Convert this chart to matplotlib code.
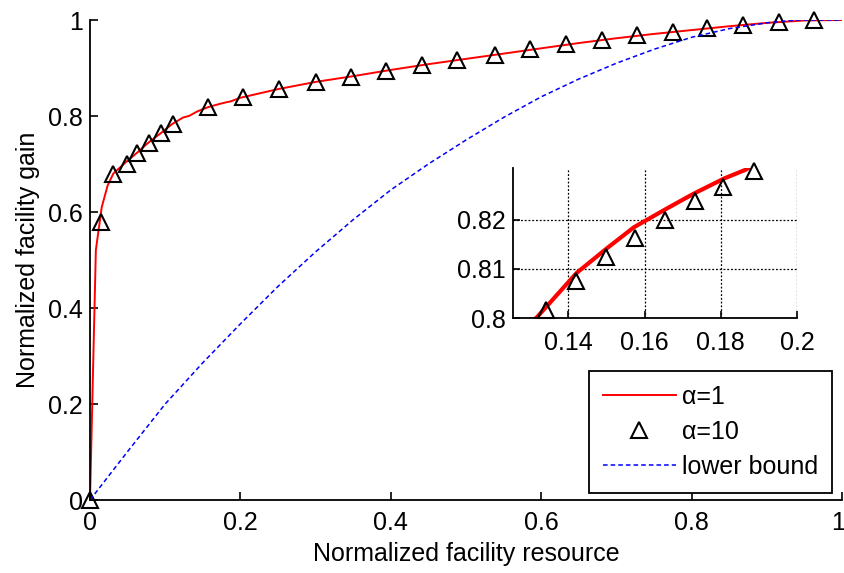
import matplotlib
matplotlib.use("Agg")
import matplotlib.pyplot as plt
from matplotlib.ticker import FixedLocator, FuncFormatter
from matplotlib.transforms import ScaledTranslation

plt.rcParams['font.family'] = ['Liberation Sans', 'DejaVu Sans']
FS = 18

# alpha = 1 (solid red curve)
red_x = [0, 0.0078, 0.0156, 0.0234, 0.031, 0.047, 0.063, 0.078, 0.094, 0.109, 0.124,
         0.1316, 0.1422, 0.1501, 0.1572, 0.166, 0.173, 0.181, 0.1867, 0.2, 0.25, 0.3,
         0.35, 0.4, 0.45, 0.5, 0.55, 0.6, 0.65, 0.7, 0.75, 0.8, 0.85, 0.9, 0.95, 1.0]
red_y = [0, 0.521, 0.61, 0.655, 0.68, 0.703, 0.724, 0.745, 0.764, 0.783, 0.797,
         0.800, 0.8092, 0.8142, 0.8185, 0.8224, 0.8254, 0.8285, 0.8303, 0.838, 0.856, 0.871,
         0.883, 0.896, 0.908, 0.919, 0.930, 0.941, 0.952, 0.962, 0.971, 0.979, 0.987, 0.994, 0.999, 1.0]

# alpha = 10 (triangles, main plot)
tri_x = [0, 0.0146, 0.031, 0.0488, 0.063, 0.0786, 0.0945, 0.110, 0.157, 0.203, 0.251,
         0.300, 0.3467, 0.394, 0.441, 0.488, 0.538, 0.5857, 0.633, 0.681, 0.728, 0.7756,
         0.821, 0.869, 0.916, 0.963]
tri_y = [0, 0.5785, 0.6785, 0.699, 0.722, 0.744, 0.764, 0.783, 0.818, 0.840, 0.8556,
         0.870, 0.8806, 0.894, 0.906, 0.9167, 0.928, 0.939, 0.950, 0.958, 0.969, 0.976,
         0.983, 0.990, 0.9965, 1.0]

# lower bound (dashed blue)
low_x = [0, 0.05, 0.1, 0.15, 0.2, 0.25, 0.3, 0.35, 0.4, 0.45, 0.5, 0.55, 0.6, 0.65,
         0.7, 0.75, 0.8, 0.85, 0.9, 0.94, 1.0]
low_y = [0, 0.101, 0.200, 0.286, 0.367, 0.445, 0.517, 0.584, 0.646, 0.700, 0.750, 0.797,
         0.840, 0.877, 0.910, 0.939, 0.964, 0.982, 0.994, 1.0, 1.0]

# inset triangles (alpha = 10, zoomed)
ins_tri_x = [0.1341, 0.1420, 0.1498, 0.1574, 0.1653, 0.1732, 0.1807, 0.1886]
ins_tri_y = [0.8016, 0.8075, 0.8125, 0.8164, 0.8200, 0.8239, 0.8268, 0.8300]

main_ticks = [0, 0.2, 0.4, 0.6, 0.8, 1]
ins_xticks = [0.14, 0.16, 0.18, 0.2]
ins_yticks = [0.8, 0.81, 0.82]

W, H = 845, 573
fig = plt.figure(figsize=(W / 100, H / 100), dpi=100)
ax = fig.add_axes([90 / W, 1 - 500 / H, 752 / W, 480 / H])

fmt = FuncFormatter(lambda v, p: ('%g' % round(v, 4)))

ax.plot(red_x, red_y, color='#ff0000', lw=1.4, label='α=1')
ax.plot(tri_x, tri_y, linestyle='none', marker='^', ms=12, mfc='none', mec='black',
        mew=1.5, label='α=10', clip_on=False)
ax.plot(low_x, low_y, color='#0000ff', lw=1.1, linestyle=(0, (3, 2)), label='lower bound')

ax.set_xlim(0, 1)
ax.set_ylim(0, 1)
ax.xaxis.set_major_locator(FixedLocator(main_ticks))
ax.yaxis.set_major_locator(FixedLocator(main_ticks))
ax.xaxis.set_major_formatter(fmt)
ax.yaxis.set_major_formatter(fmt)
for s in ['top', 'right']:
    ax.spines[s].set_visible(False)
for s in ['left', 'bottom']:
    ax.spines[s].set_linewidth(1.3)
ax.tick_params(direction='in', length=6, width=1.2, labelsize=FS)
ax.tick_params(axis='y', pad=5)
ax.tick_params(axis='x', pad=8)
ax.set_xlabel('Normalized facility resource', fontsize=FS, labelpad=5)
ax.set_ylabel('Normalized facility gain', fontsize=FS, labelpad=6)

# keep the right-most tick label inside the figure
last_tick = ax.xaxis.get_major_ticks()[-1]
last_tick.label1.set_transform(last_tick.label1.get_transform()
                               + ScaledTranslation(-4 / 100, 0, fig.dpi_scale_trans))

leg = ax.legend(loc='lower right', bbox_to_anchor=(0.987, 0.0146), borderaxespad=0,
                fontsize=FS, fancybox=False, edgecolor='black', framealpha=1,
                handlelength=2.9, handletextpad=0.27, numpoints=1, labelspacing=0.45,
                borderpad=0.55)
leg.get_frame().set_linewidth(1.3)

# inset
ins = fig.add_axes([513 / W, 1 - 318 / H, 284 / W, 150 / H])
ins.plot(red_x, red_y, color='#ff0000', lw=3)
ins.plot(ins_tri_x, ins_tri_y, linestyle='none', marker='^', ms=12, mfc='none',
         mec='black', mew=1.5, clip_on=False)
ins.set_xlim(0.1255, 0.2)
ins.set_ylim(0.8, 0.8306)
ins.xaxis.set_major_locator(FixedLocator(ins_xticks))
ins.yaxis.set_major_locator(FixedLocator(ins_yticks))
ins.xaxis.set_major_formatter(fmt)
ins.yaxis.set_major_formatter(fmt)
ins.grid(True, color='black', linestyle=(0, (1.5, 1.5)), lw=0.9)
for s in ['top', 'right']:
    ins.spines[s].set_visible(False)
for s in ['left', 'bottom']:
    ins.spines[s].set_linewidth(1.3)
ins.tick_params(direction='in', length=5, width=1.2, labelsize=FS)
ins.tick_params(axis='y', pad=5)
ins.tick_params(axis='x', pad=9)
ins.set_facecolor('white')

fig.savefig('out.png', dpi=100)
